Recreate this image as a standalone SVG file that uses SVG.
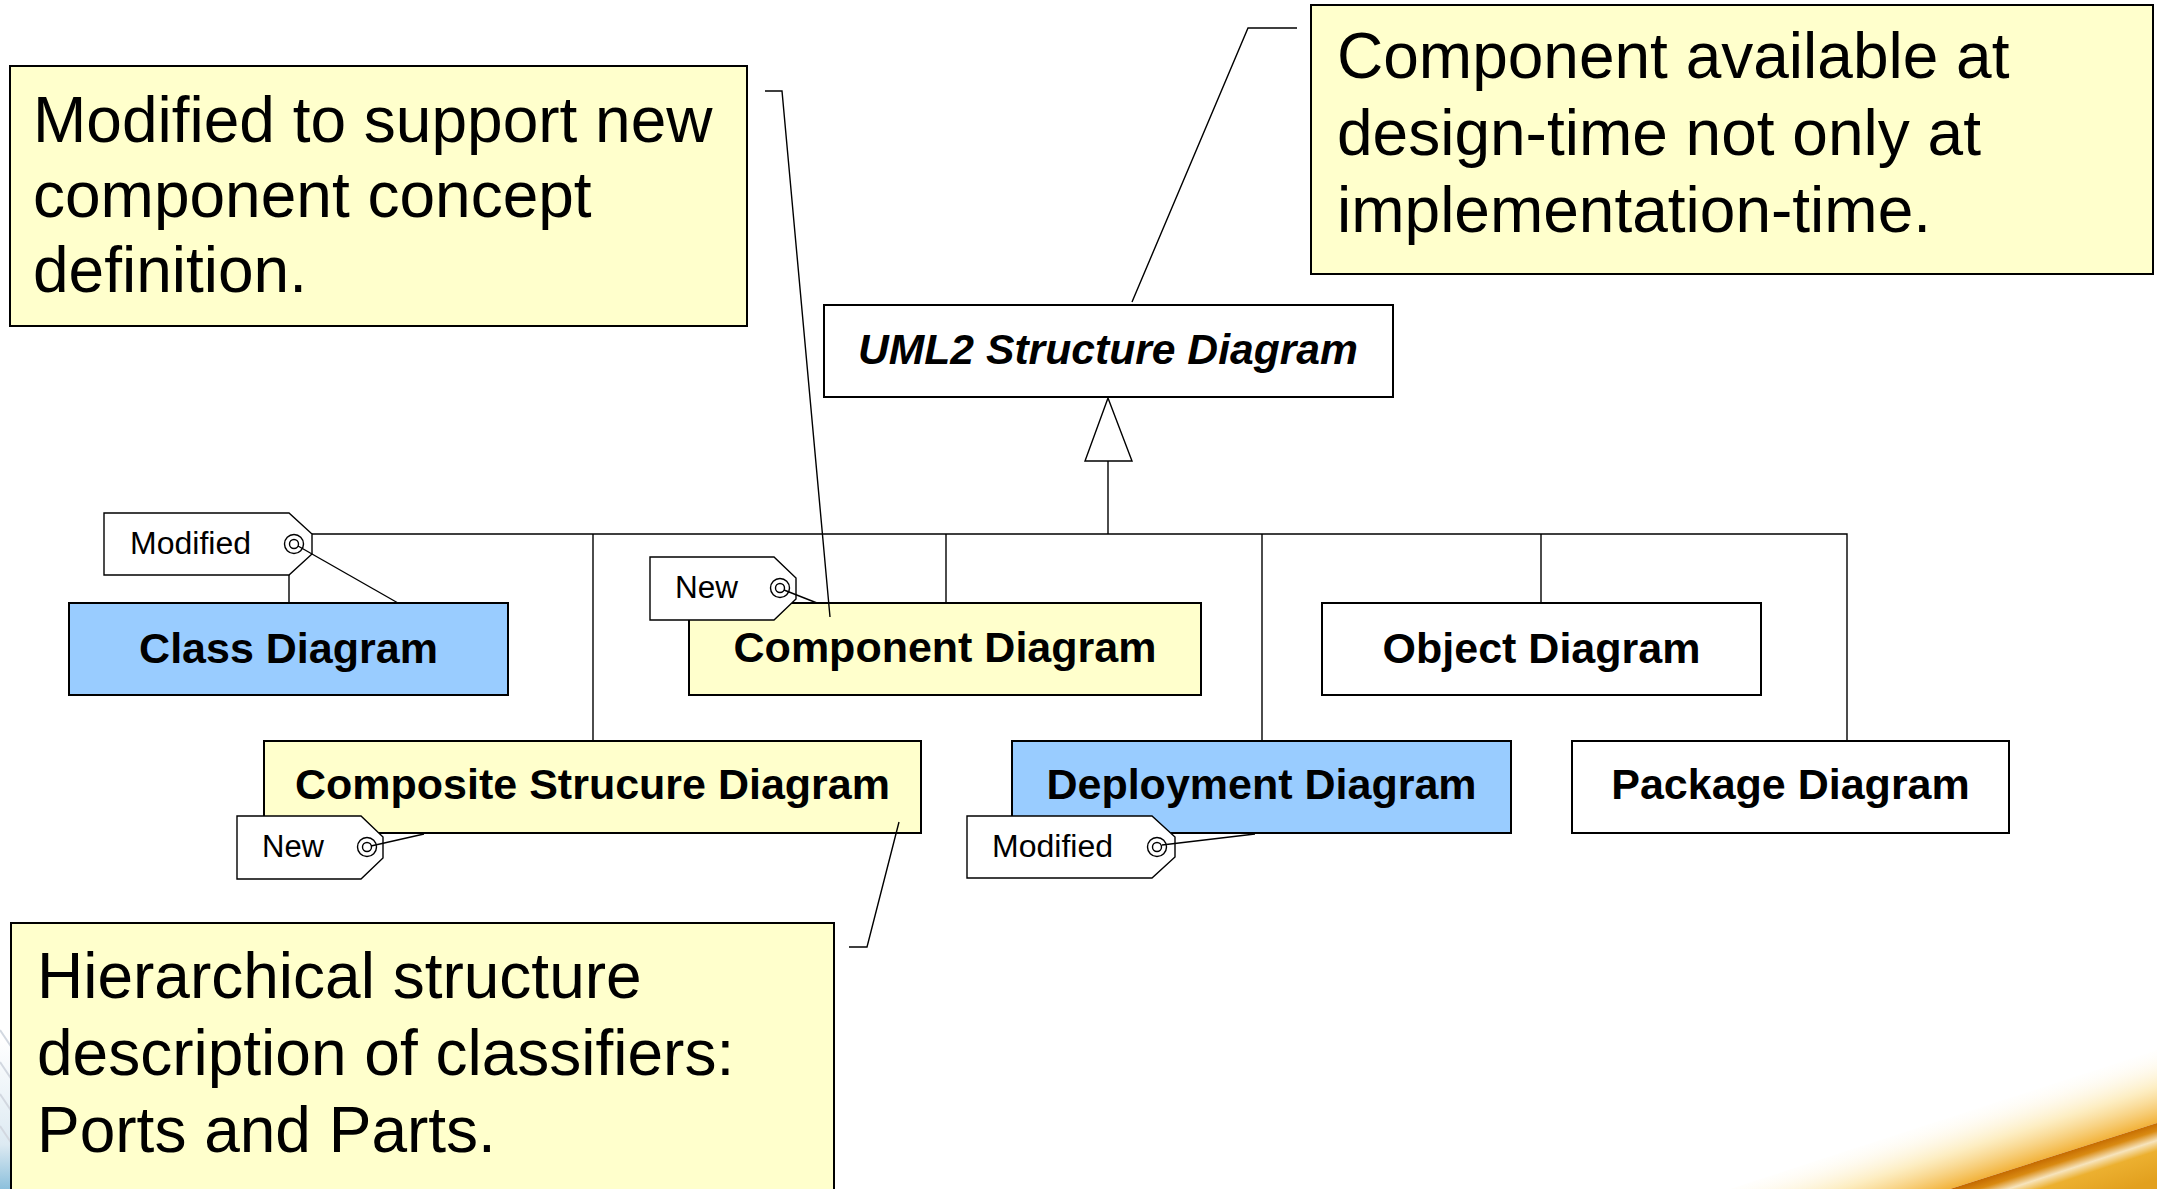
<svg xmlns="http://www.w3.org/2000/svg" width="2157" height="1189" viewBox="0 0 2157 1189">
  <style>
    text { font-family: "Liberation Sans", Arial, sans-serif; fill: #000; }
    .box { stroke: #000; stroke-width: 2; }
    .blue { fill: #99CCFF; }
    .yellow { fill: #FFFFCC; }
    .white { fill: #FFFFFF; }
    .lbl { font-size: 43px; font-weight: bold; text-anchor: middle; }
    .abstract { font-style: italic; font-size: 42.5px; }
    .conn { stroke: #000; stroke-width: 1.4; fill: none; }
    .tag { fill: #FFFFFF; stroke: #000; stroke-width: 1.4; }
    .tagtxt { font-size: 31px; }
    .note { fill: #FFFFCC; stroke: #000; stroke-width: 2; }
    .notetxt { font-size: 64px; }
  </style>
  <defs>
    <!-- keyword tag shapes, drawn at local origin -->
    <g id="tag-mod">
      <polygon class="tag" points="0,0 185,0 208,21 208,41 185,62 0,62"/>
      <circle class="tag" cx="190" cy="31" r="9.5"/>
      <circle class="tag" cx="190" cy="31" r="4.5"/>
    </g>
    <g id="tag-new">
      <polygon class="tag" points="0,0 124,0 146,21 146,42 124,63 0,63"/>
      <circle class="tag" cx="130" cy="31" r="9.5"/>
      <circle class="tag" cx="130" cy="31" r="4.5"/>
    </g>
    <linearGradient id="glow" gradientUnits="userSpaceOnUse" x1="2030" y1="1084" x2="2053" y2="1156">
      <stop offset="0" stop-color="#FFFFFF" stop-opacity="0"/>
      <stop offset="0.55" stop-color="#FCE6A8" stop-opacity="0.7"/>
      <stop offset="1" stop-color="#F2B23A"/>
    </linearGradient>
    <linearGradient id="band" gradientUnits="userSpaceOnUse" x1="2053" y1="1156" x2="2070" y2="1208">
      <stop offset="0" stop-color="#C46A00"/>
      <stop offset="0.15" stop-color="#D98A12"/>
      <stop offset="0.32" stop-color="#F7E4BC"/>
      <stop offset="0.5" stop-color="#ECB030"/>
      <stop offset="1" stop-color="#E2A01E"/>
    </linearGradient>
    <linearGradient id="edgeBlue" x1="0" y1="0" x2="0" y2="1">
      <stop offset="0" stop-color="#FFFFFF"/>
      <stop offset="0.7" stop-color="#DDEAF2"/>
      <stop offset="1" stop-color="#8CC0DC"/>
    </linearGradient>
  </defs>

  <rect width="2157" height="1189" fill="#FFFFFF"/>

  <!-- corner decoration -->
  <g id="decor">
    <rect x="0" y="1040" width="12" height="149" fill="url(#edgeBlue)"/>
    <g stroke="#D2D8E0" stroke-width="2" fill="none">
      <path d="M0,1030 L12,1048"/>
      <path d="M0,1062 L12,1080"/>
      <path d="M0,1094 L12,1112"/>
      <path d="M0,1126 L12,1144"/>
    </g>
    <polygon points="1730,1189 2157,1050 2157,1123 1950,1189" fill="url(#glow)"/>
    <polygon points="1950,1189 2157,1123 2157,1189" fill="url(#band)"/>
  </g>

  <!-- generalization tree -->
  <g id="connectors">
    <polyline class="conn" points="289,603 289,534 1847,534 1847,741"/>
    <line class="conn" x1="1108" y1="461" x2="1108" y2="534"/>
    <line class="conn" x1="593" y1="534" x2="593" y2="741"/>
    <line class="conn" x1="946" y1="534" x2="946" y2="603"/>
    <line class="conn" x1="1262" y1="534" x2="1262" y2="741"/>
    <line class="conn" x1="1541" y1="534" x2="1541" y2="603"/>
    <polygon class="conn" points="1108,398 1085,461 1132,461" style="fill:#FFFFFF"/>
  </g>

  <g id="uml2-structure">
    <rect class="box white" x="824" y="305" width="569" height="92"/>
    <text class="lbl abstract" x="1108" y="364" textLength="500" lengthAdjust="spacingAndGlyphs">UML2 Structure Diagram</text>
  </g>
  <g id="class-diagram">
    <rect class="box blue" x="69" y="603" width="439" height="92"/>
    <text class="lbl" x="288.5" y="663">Class Diagram</text>
  </g>
  <g id="component-diagram">
    <rect class="box yellow" x="689" y="603" width="512" height="92"/>
    <text class="lbl" x="945" y="662">Component Diagram</text>
  </g>
  <g id="object-diagram">
    <rect class="box white" x="1322" y="603" width="439" height="92"/>
    <text class="lbl" x="1541.5" y="663">Object Diagram</text>
  </g>
  <g id="composite-structure-diagram">
    <rect class="box yellow" x="264" y="741" width="657" height="92"/>
    <text class="lbl" x="592.5" y="799">Composite Strucure Diagram</text>
  </g>
  <g id="deployment-diagram">
    <rect class="box blue" x="1012" y="741" width="499" height="92"/>
    <text class="lbl" x="1261.5" y="799">Deployment Diagram</text>
  </g>
  <g id="package-diagram">
    <rect class="box white" x="1572" y="741" width="437" height="92"/>
    <text class="lbl" x="1790.5" y="799">Package Diagram</text>
  </g>

  <!-- keyword tags -->
  <g id="tag-class">
    <use href="#tag-mod" x="104" y="513"/>
    <text class="tagtxt" x="130" y="554" textLength="121" lengthAdjust="spacingAndGlyphs">Modified</text>
    <line class="conn" x1="298" y1="546" x2="398" y2="603"/>
  </g>
  <g id="tag-component">
    <use href="#tag-new" x="650" y="557"/>
    <text class="tagtxt" x="675" y="598" textLength="63" lengthAdjust="spacingAndGlyphs">New</text>
    <line class="conn" x1="784" y1="590" x2="817" y2="603"/>
  </g>
  <g id="tag-composite">
    <use href="#tag-new" x="237" y="816"/>
    <text class="tagtxt" x="262" y="857" textLength="62" lengthAdjust="spacingAndGlyphs">New</text>
    <line class="conn" x1="371" y1="846" x2="424" y2="834"/>
  </g>
  <g id="tag-deployment">
    <use href="#tag-mod" x="967" y="816"/>
    <text class="tagtxt" x="992" y="857" textLength="121" lengthAdjust="spacingAndGlyphs">Modified</text>
    <line class="conn" x1="1162" y1="845" x2="1255" y2="834"/>
  </g>

  <!-- notes -->
  <g id="note-component-concept">
    <rect class="note" x="10" y="66" width="737" height="260"/>
    <text class="notetxt" x="33" y="142">Modified to support new</text>
    <text class="notetxt" x="33" y="217">component concept</text>
    <text class="notetxt" x="33" y="292">definition.</text>
  </g>
  <g id="note-design-time">
    <rect class="note" x="1311" y="5" width="842" height="269"/>
    <text class="notetxt" x="1337" y="78">Component available at</text>
    <text class="notetxt" x="1337" y="155">design-time not only at</text>
    <text class="notetxt" x="1337" y="232">implementation-time.</text>
  </g>
  <g id="note-hierarchical">
    <rect class="note" x="11" y="923" width="823" height="280"/>
    <text class="notetxt" x="37" y="998">Hierarchical structure</text>
    <text class="notetxt" x="37" y="1075">description of classifiers:</text>
    <text class="notetxt" x="37" y="1152">Ports and Parts.</text>
  </g>

  <!-- note anchors -->
  <g id="note-links">
    <polyline class="conn" points="765,91 782,91 830,617"/>
    <polyline class="conn" points="1297,28 1248,28 1132,302"/>
    <polyline class="conn" points="849,947 867,947 899,822"/>
  </g>
</svg>
